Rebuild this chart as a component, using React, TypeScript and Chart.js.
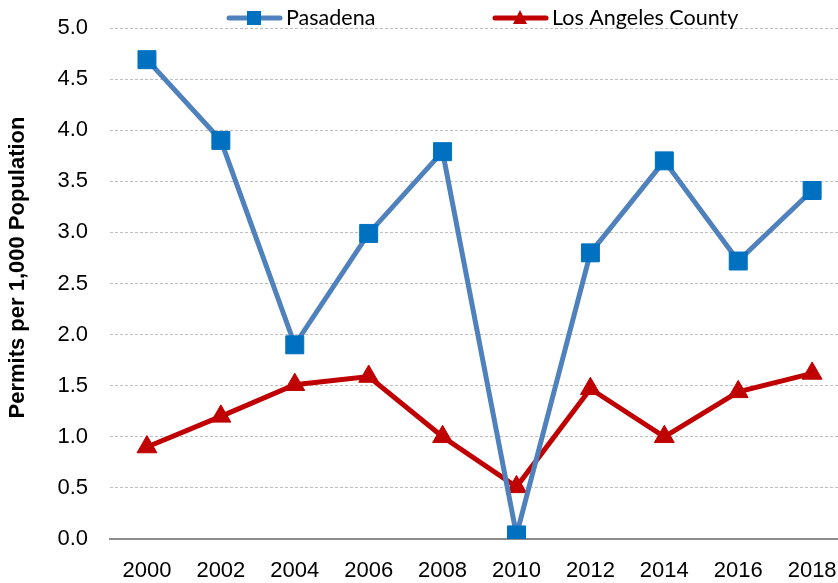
import React, { useEffect, useRef } from "react";
import { Chart, registerables } from "chart.js";

Chart.register(...registerables);

const years = [2000, 2002, 2004, 2006, 2008, 2010, 2012, 2014, 2016, 2018];
const pasadena = [4.69, 3.9, 1.9, 2.99, 3.79, 0.04, 2.8, 3.7, 2.72, 3.41];
const laCounty = [0.9, 1.2, 1.51, 1.59, 1.0, 0.51, 1.47, 1.0, 1.44, 1.62];
const seriesNames = ["Pasadena", "Los Angeles County"];
const yAxisTitle = "Permits per 1,000 Population";

const TICK_FONT = '"Liberation Sans", Arial, sans-serif';
const LEGEND_FONT = 'Lato, "Noto Sans", sans-serif';

const annotationPlugin = {
  id: "customLegendAndTitle",
  afterDraw(chart: any) {
    const ctx = chart.ctx;
    const y = 18;
    const entries = [
      { x: 227, name: seriesNames[0], line: "#4F81BD", marker: "#0070C0", shape: "rect" },
      { x: 493, name: seriesNames[1], line: "#C00000", marker: "#C00000", shape: "tri" },
    ];
    ctx.save();
    for (const e of entries) {
      ctx.strokeStyle = e.line;
      ctx.lineWidth = 5;
      ctx.lineCap = "round";
      ctx.beginPath();
      ctx.moveTo(e.x + 2, y);
      ctx.lineTo(e.x + 53, y);
      ctx.stroke();
      ctx.fillStyle = e.marker;
      const cx = e.x + 27;
      if (e.shape === "rect") {
        ctx.fillRect(cx - 7, y - 7, 14, 14);
      } else {
        ctx.beginPath();
        ctx.moveTo(cx, y - 8);
        ctx.lineTo(cx + 7, y + 6);
        ctx.lineTo(cx - 7, y + 6);
        ctx.closePath();
        ctx.fill();
      }
      ctx.fillStyle = "#000000";
      ctx.font = "21.5px " + LEGEND_FONT;
      ctx.textBaseline = "alphabetic";
      ctx.textAlign = "left";
      ctx.fillText(e.name, e.x + 59, 25);
    }
    // y-axis title
    const area = chart.chartArea;
    ctx.translate(18, (area.top + area.bottom) / 2 - 16);
    ctx.rotate(-Math.PI / 2);
    ctx.font = "bold 22px " + TICK_FONT;
    ctx.textAlign = "center";
    ctx.textBaseline = "middle";
    ctx.fillStyle = "#000000";
    ctx.fillText(yAxisTitle, 0, 0);
    ctx.restore();
  },
};

export default function App() {
  const ref = useRef<HTMLCanvasElement | null>(null);

  useEffect(() => {
    if (!ref.current) return;
    const chart = new Chart(ref.current, {
      type: "line",
      data: {
        datasets: [
          {
            label: seriesNames[0],
            data: years.map((x, i) => ({ x, y: pasadena[i] })),
            borderColor: "#4F81BD",
            borderWidth: 5,
            pointStyle: "rect",
            pointRadius: 12.7,
            pointBackgroundColor: "#0070C0",
            pointBorderColor: "#0070C0",
            pointBorderWidth: 1,
            tension: 0,
          },
          {
            label: seriesNames[1],
            data: years.map((x, i) => ({ x, y: laCounty[i] })),
            borderColor: "#C00000",
            borderWidth: 5,
            pointStyle: "triangle",
            pointRadius: 11.5,
            pointBackgroundColor: "#C00000",
            pointBorderColor: "#C00000",
            pointBorderWidth: 1,
            tension: 0,
          },
        ],
      },
      options: {
        responsive: false,
        animation: false,
        layout: { autoPadding: false, padding: { top: 28, right: 0, left: 0, bottom: 0 } },
        plugins: {
          legend: { display: false },
          tooltip: { enabled: false },
        },
        scales: {
          x: {
            type: "linear",
            min: 1999,
            max: 2018.7,
            afterBuildTicks: (scale: any) => {
              scale.ticks = years.map((v) => ({ value: v }));
            },
            afterFit: (scale: any) => {
              scale.height = 44;
              scale.paddingLeft = 0;
              scale.paddingRight = 0;
            },
            grid: { display: false, drawTicks: false },
            border: { display: true, color: "#8C8C8C", width: 2 },
            ticks: {
              padding: 19,
              color: "#000000",
              font: { family: TICK_FONT, size: 22 },
              maxRotation: 0,
              autoSkip: false,
              callback: (v: any) => String(v),
            },
          },
          y: {
            min: 0,
            max: 5,
            afterFit: (scale: any) => {
              scale.width = 110;
              scale.paddingTop = 0;
              scale.paddingBottom = 0;
            },
            grid: { color: "#BFBFBF", lineWidth: 1, drawTicks: false },
            border: { display: false, dash: [3, 2] },
            ticks: {
              stepSize: 0.5,
              padding: 22,
              color: "#000000",
              font: { family: TICK_FONT, size: 22 },
              callback: (v: any) => Number(v).toFixed(1),
            },
          },
        },
      },
      plugins: [annotationPlugin],
    } as any);
    return () => chart.destroy();
  }, []);

  return (
    <div style={{ position: "fixed", left: 0, top: 0, width: 838, height: 583, background: "#ffffff" }}>
      <canvas ref={ref} width={838} height={583} />
    </div>
  );
}
